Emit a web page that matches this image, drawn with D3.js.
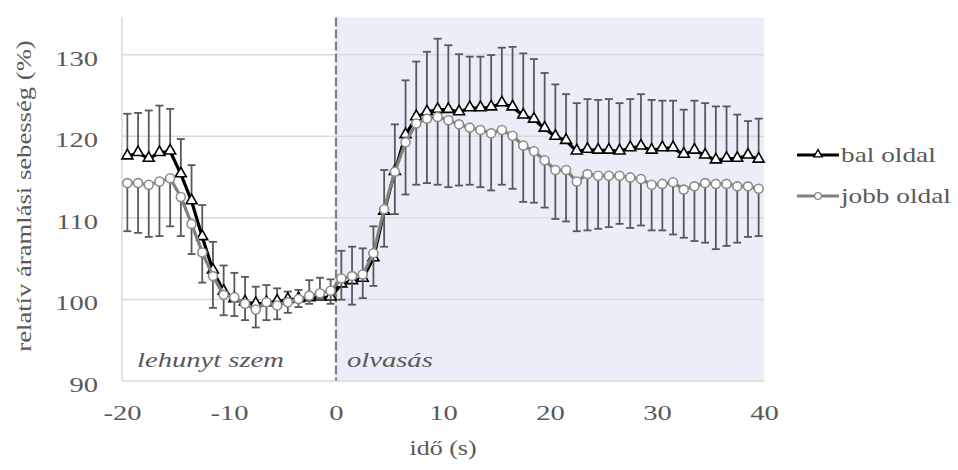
<!DOCTYPE html>
<html>
<head>
<meta charset="utf-8">
<script src="https://cdn.jsdelivr.net/npm/d3@7"></script>
<style>
  body { margin: 0; background: #fff; }
  svg text { font-family: "Liberation Serif", "Times New Roman", Times, serif; }
</style>
</head>
<body>
<svg width="958" height="470"></svg>
<script>
// time points (s)
var times = [-19.5, -18.5, -17.5, -16.5, -15.5, -14.5, -13.5, -12.5, -11.5, -10.5,
             -9.5, -8.5, -7.5, -6.5, -5.5, -4.5, -3.5, -2.5, -1.5, -0.5,
             0.5, 1.5, 2.5, 3.5, 4.5, 5.5, 6.5, 7.5, 8.5, 9.5,
             10.5, 11.5, 12.5, 13.5, 14.5, 15.5, 16.5, 17.5, 18.5, 19.5,
             20.5, 21.5, 22.5, 23.5, 24.5, 25.5, 26.5, 27.5, 28.5, 29.5,
             30.5, 31.5, 32.5, 33.5, 34.5, 35.5, 36.5, 37.5, 38.5, 39.5];

// bal oldal: mean and (upper) error
var balValues = [117.5, 117.9, 117.2, 117.9, 118.1, 115.3, 112.0, 107.6, 103.5, 100.9,
                 100.0, 99.6, 99.4, 99.5, 99.7, 99.9, 100.0, 100.1, 100.2, 100.2,
                 101.8, 102.2, 102.5, 105.0, 110.7, 115.6, 120.1, 122.3, 122.9, 123.2,
                 123.2, 122.9, 123.4, 123.4, 123.5, 124.0, 123.5, 122.5, 122.0, 120.9,
                 119.9, 119.4, 118.1, 118.3, 118.2, 118.2, 118.1, 118.5, 118.7, 118.2,
                 118.5, 118.5, 117.7, 118.2, 117.6, 117.0, 117.2, 117.2, 117.6, 117.1];
var balErr = [5.2, 4.9, 5.9, 5.8, 5.2, 4.3, 4.4, 3.9, 3.5, 3.2,
              3.2, 3.1, 2.1, 2.2, 1.6, 1.0, 1.1, 2.2, 2.4, 2.2,
              4.1, 4.2, 3.7, 3.9, 5.1, 5.8, 6.7, 6.8, 7.4, 8.7,
              7.9, 7.1, 6.3, 6.3, 6.4, 6.8, 7.4, 7.6, 7.4, 6.8,
              6.4, 5.7, 5.9, 6.2, 6.2, 6.3, 5.9, 6.0, 6.4, 6.2,
              5.8, 5.8, 5.5, 6.1, 6.4, 6.6, 6.4, 5.4, 4.2, 5.0];

// jobb oldal: mean and (lower) error
var jobbValues = [114.2, 114.2, 114.0, 114.4, 114.8, 112.5, 109.2, 105.7, 102.8, 100.5,
                  100.2, 99.4, 98.7, 99.6, 99.2, 99.6, 100.0, 100.4, 100.7, 101.0,
                  102.5, 102.8, 103.0, 105.6, 111.0, 115.6, 119.2, 121.5, 122.1, 122.3,
                  121.9, 121.4, 121.0, 120.7, 120.3, 120.7, 120.0, 118.8, 118.1, 117.0,
                  115.8, 115.8, 114.4, 115.3, 115.1, 115.1, 115.1, 114.9, 114.7, 114.0,
                  114.1, 114.3, 113.4, 113.8, 114.2, 114.1, 114.1, 113.8, 113.8, 113.5];
var jobbErr = [5.9, 6.1, 6.4, 6.7, 5.9, 4.8, 3.7, 3.7, 3.9, 2.5,
               2.3, 2.0, 2.2, 2.2, 1.7, 1.3, 1.0, 1.0, 0.7, 1.6,
               2.6, 3.5, 2.9, 4.0, 4.6, 5.2, 6.4, 7.5, 7.9, 8.3,
               8.2, 7.5, 7.0, 7.0, 7.0, 6.7, 6.5, 6.9, 6.3, 5.8,
               6.0, 6.3, 6.1, 6.9, 6.5, 6.3, 5.9, 6.2, 5.7, 5.6,
               5.7, 6.4, 5.9, 6.7, 7.3, 8.0, 7.6, 6.9, 6.2, 5.8];

var xTicks = [-20, -10, 0, 10, 20, 30, 40];
var yTicks = [90, 100, 110, 120, 130];
var seriesNames = ["bal oldal", "jobb oldal"];

var svg = d3.select("svg");
var plotL = 122, plotR = 764, plotT = 17.5, plotB = 380.5;
var textColor = "#595959";
var serif = "'Liberation Serif', 'Times New Roman', Times, serif";
var sx = 1.3; // the original font runs wider than Liberation Serif

var x = d3.scaleLinear().domain([-20, 40]).range([plotL, plotR]);
var y = d3.scaleLinear().domain([90, 134.5]).range([plotB, plotT]);

var bal = times.map(function(t, i){ return {t: t, v: balValues[i], e: balErr[i]}; });
var jobb = times.map(function(t, i){ return {t: t, v: jobbValues[i], e: jobbErr[i]}; });

// reading period shading
svg.append("rect")
  .attr("x", x(0)).attr("y", plotT)
  .attr("width", x(40) - x(0)).attr("height", plotB - plotT)
  .attr("fill", "#eaeef8");

// y gridlines + labels
var gy = svg.append("g").attr("transform", "translate(" + plotL + ",0)")
  .call(d3.axisLeft(y).tickValues(yTicks).tickSize(-(plotR - plotL)).tickFormat(d3.format("d")));
gy.attr("font-family", serif);
gy.select(".domain").remove();
gy.selectAll(".tick line").attr("stroke", "#d9d9d9").attr("stroke-width", 1.5);
gy.selectAll(".tick text")
  .attr("x", null).attr("dy", null)
  .attr("transform", "translate(-24,11) scale(" + sx + ",1)")
  .attr("text-anchor", "end")
  .attr("fill", textColor)
  .attr("font-size", 22);

// left axis line
svg.append("line")
  .attr("x1", plotL).attr("x2", plotL).attr("y1", plotT).attr("y2", plotB)
  .attr("stroke", "#d9d9d9").attr("stroke-width", 1.5);

// x axis labels
var gx = svg.append("g").attr("transform", "translate(0," + plotB + ")")
  .call(d3.axisBottom(x).tickValues(xTicks).tickSize(0).tickFormat(d3.format("d")));
gx.attr("font-family", serif);
gx.select(".domain").remove();
gx.selectAll(".tick text")
  .attr("y", null).attr("dy", null)
  .attr("transform", "translate(0,39) scale(" + sx + ",1)")
  .attr("fill", textColor)
  .attr("font-size", 22)
  .text(function(d){ return String(d); });

// boundary at t = 0
svg.append("line")
  .attr("x1", x(0)).attr("x2", x(0)).attr("y1", plotT).attr("y2", plotB)
  .attr("stroke", "#7f7f7f").attr("stroke-width", 2.2)
  .attr("stroke-dasharray", "9,3");

function errorBars(data, dir) {
  var g = svg.append("g").attr("stroke", "#595959").attr("stroke-width", 1.8);
  g.selectAll("line.v").data(data).enter().append("line")
    .attr("x1", function(d){ return x(d.t); })
    .attr("x2", function(d){ return x(d.t); })
    .attr("y1", function(d){ return y(d.v); })
    .attr("y2", function(d){ return y(d.v + dir * d.e); });
  g.selectAll("line.c").data(data).enter().append("line")
    .attr("x1", function(d){ return x(d.t) - 4; })
    .attr("x2", function(d){ return x(d.t) + 4; })
    .attr("y1", function(d){ return y(d.v + dir * d.e); })
    .attr("y2", function(d){ return y(d.v + dir * d.e); });
}

var line = d3.line().x(function(d){ return x(d.t); }).y(function(d){ return y(d.v); });
var tri = d3.symbol().type(d3.symbolTriangle).size(52);

// bal oldal
errorBars(bal, 1);
svg.append("path").datum(bal)
  .attr("d", line).attr("fill", "none")
  .attr("stroke", "#000").attr("stroke-width", 3.2).attr("stroke-linejoin", "round");
svg.append("g").selectAll("path").data(bal).enter().append("path")
  .attr("d", tri)
  .attr("transform", function(d){ return "translate(" + x(d.t) + "," + (y(d.v) - 0.5) + ")"; })
  .attr("fill", "#fff").attr("stroke", "#000").attr("stroke-width", 1.6);

// jobb oldal
errorBars(jobb, -1);
svg.append("path").datum(jobb)
  .attr("d", line).attr("fill", "none")
  .attr("stroke", "#808080").attr("stroke-width", 3.2).attr("stroke-linejoin", "round");
svg.append("g").selectAll("circle").data(jobb).enter().append("circle")
  .attr("cx", function(d){ return x(d.t); })
  .attr("cy", function(d){ return y(d.v); })
  .attr("r", 4.5)
  .attr("fill", "#fff").attr("stroke", "#8c8c8c").attr("stroke-width", 1.6);

// period labels
function label(txt, px, py, size, italic, rot) {
  svg.append("text")
    .attr("transform", "translate(" + px + "," + py + ")" + (rot ? " rotate(-90)" : "") + " scale(" + sx + ",1)")
    .attr("fill", textColor)
    .attr("text-anchor", rot ? "middle" : "start")
    .attr("font-family", serif)
    .attr("font-size", size)
    .attr("font-style", italic ? "italic" : "normal")
    .text(txt);
}
label("lehunyt szem", 137, 367, 22, true);
label("olvasás", 347, 367, 22, true);

// axis titles
svg.append("text")
  .attr("transform", "translate(" + x(10) + ",455) scale(" + sx + ",1)")
  .attr("text-anchor", "middle").attr("fill", textColor)
  .attr("font-family", serif)
  .attr("font-size", 20)
  .text("idő (s)");
label("relatív áramlási sebesség (%)", 31, 196, 20.5, false, true);

// legend
var legend = svg.append("g");
var legY = [155, 196];
legend.append("line").attr("x1", 797).attr("x2", 839).attr("y1", legY[0]).attr("y2", legY[0])
  .attr("stroke", "#000").attr("stroke-width", 3.2);
legend.append("path").attr("d", d3.symbol().type(d3.symbolTriangle).size(30))
  .attr("transform", "translate(818," + (legY[0] - 0.5) + ")")
  .attr("fill", "#fff").attr("stroke", "#000").attr("stroke-width", 1.4);
legend.append("line").attr("x1", 797).attr("x2", 839).attr("y1", legY[1]).attr("y2", legY[1])
  .attr("stroke", "#808080").attr("stroke-width", 3.2);
legend.append("circle").attr("cx", 818).attr("cy", legY[1]).attr("r", 3.4)
  .attr("fill", "#fff").attr("stroke", "#8c8c8c").attr("stroke-width", 1.4);
legend.selectAll("text").data(seriesNames).enter().append("text")
  .attr("transform", function(d, i){ return "translate(841," + (legY[i] + 7) + ") scale(" + sx + ",1)"; })
  .attr("fill", textColor)
  .attr("font-family", serif)
  .attr("font-size", 21)
  .text(function(d){ return d; });
</script>
</body>
</html>
